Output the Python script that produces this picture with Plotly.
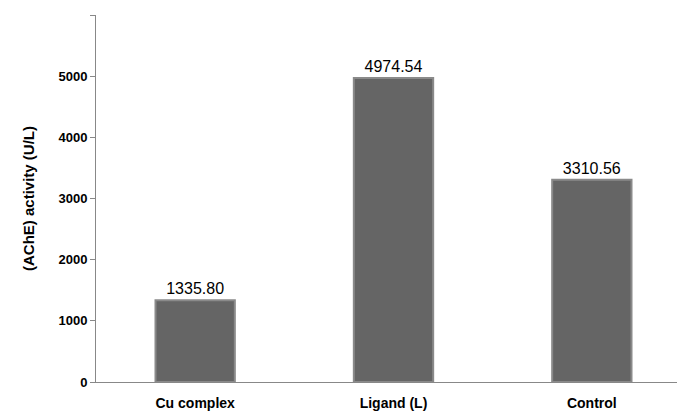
import plotly.graph_objects as go

groups = ['Cu complex', 'Ligand (L)', 'Control']
activity = [1335.80, 4974.54, 3310.56]
labels = ['1335.80', '4974.54', '3310.56']

fig = go.Figure(go.Bar(
    x=groups,
    y=activity,
    text=labels,
    textposition='outside',
    textfont=dict(size=16, color='black', family='Liberation Sans'),
    marker=dict(color='#656565', line=dict(color='#8a8a8a', width=2)),
    width=0.4,
    cliponaxis=False,
))

fig.update_layout(
    width=685, height=414,
    margin=dict(l=88, r=2, t=7, b=40),
    plot_bgcolor='white', paper_bgcolor='white',
    font=dict(family='Liberation Sans', color='black', size=13),
    showlegend=False,
    xaxis=dict(showline=True, linecolor='#888888', ticks='',
               tickfont=dict(size=14, family='Liberation Sans', color='black'),
               ticklabelstandoff=8),
    yaxis=dict(range=[0, 6005], showline=True, linecolor='#888888',
               ticks='outside', ticklen=5, tickcolor='#888888', showgrid=False,
               tickfont=dict(size=13, family='Liberation Sans', color='black'),
               title=dict(text='<b>(AChE) activity (U/L)</b>',
                          font=dict(size=15, family='Liberation Sans'), standoff=20)),
)
fig.update_xaxes(tickvals=groups, ticktext=['<b>%s</b>' % g for g in groups])
fig.update_yaxes(tickvals=[0, 1000, 2000, 3000, 4000, 5000, 6000],
                 ticktext=['<b>%d</b>' % v for v in range(0, 7000, 1000)])

fig.write_html('out.html')
